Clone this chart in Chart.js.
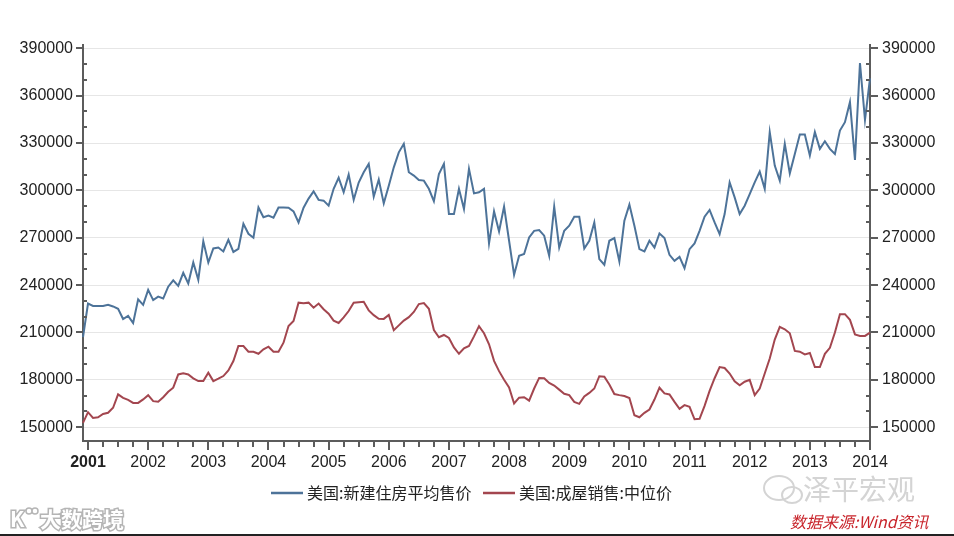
<!DOCTYPE html>
<html>
<head>
<meta charset="utf-8">
<script src="https://cdn.jsdelivr.net/npm/chart.js@4.4.0/dist/chart.umd.min.js"></script>
<style>
  html, body { margin: 0; padding: 0; background: #fff; }
  #wrap { position: relative; width: 954px; height: 536px; }
</style>
</head>
<body>
<div id="wrap"><canvas id="myChart" width="954" height="536"></canvas></div>
<script>
const seriesNames = ['美国:新建住房平均售价', '美国:成屋销售:中位价']
const colors = ['#4d7399', '#a3464f']

// monthly, 2000-12 .. 2014-01
const newHomeAvg = [
  207000, 228300, 226800, 226800, 226800, 227500, 226500, 225000, 218500, 220500,
  216000, 231000, 227500, 237000, 230500, 232700, 231500, 239000, 243000, 239500,
  247800, 241000, 254300, 243300, 267700, 254300, 263200, 263800, 261300, 268700,
  261000, 263000, 278900, 272500, 270000, 289200, 283000, 284000, 282700, 289200,
  289200, 289000, 286700, 279700, 289000, 294800, 299400, 294000, 293500, 290300,
  301000, 308000, 298800, 310000, 294000, 305000, 311500, 316800, 296000, 306800,
  291800, 303000, 314600, 324100, 329500, 311500, 309400, 306600, 306200, 301000,
  293100, 310400, 316800, 285000, 285000, 301000, 288200, 313600, 298100, 298800,
  301000, 266400, 286700, 274000, 289700, 268100, 246500, 258600, 259700, 270200,
  274400, 274900, 271300, 258600, 289700, 263800, 274400, 277600, 283300, 283300,
  263200, 268100, 279700, 256500, 252900, 268100, 269800, 255000, 280800, 291000,
  277600, 262800, 261300, 268100, 263800, 272700, 269800, 259200, 255400, 257900,
  250700, 262800, 266400, 274400, 283300, 287600, 279700, 272300, 285000, 305100,
  295600, 285000, 290300, 297700, 305100, 311900, 301000, 336900, 315700, 306200,
  329500, 310800, 323100, 335400, 335400, 322100, 336900, 326300, 331100, 326300,
  323100, 337900, 343200, 355900, 319300, 380700, 344700, 371000
]

const existingMedian = [
  152700, 159500, 155900, 156300, 158400, 159100, 162300, 170800, 168600, 167300,
  165400, 165400, 167600, 170300, 166500, 166100, 169000, 172400, 175000, 183400,
  184100, 183400, 180900, 179200, 179200, 184500, 179200, 180700, 182400, 186000,
  191900, 201400, 201400, 197800, 197800, 196500, 199300, 201000, 197800, 197800,
  203500, 214100, 217300, 228900, 228500, 228900, 225700, 228300, 224700, 221900,
  217500, 216000, 219500, 223600, 228900, 229200, 229400, 224000, 221000, 218700,
  218600, 221100, 211400, 214500, 217500, 219700, 223000, 228000, 228600, 225000,
  211500, 207000, 208400, 206500, 200500, 196500, 200000, 201500, 207500, 214000,
  209500, 202500, 192000, 185500, 180000, 175200, 165000, 168700, 169000, 166800,
  174500, 181200, 181000, 178000, 176400, 173800, 171200, 170300, 166000, 164800,
  169500, 171700, 174500, 182300, 182000, 177000, 171000, 170300, 169700, 168500,
  157600, 156300, 159100, 161200, 167500, 175000, 171400, 170700, 166000, 161600,
  164000, 162900, 155000, 155300, 163500, 173000, 181000, 188100, 187500, 184000,
  179000, 176500, 178800, 180000, 170300, 174500, 184000, 193500, 205500, 213500,
  212000, 209500, 198300, 197800, 196100, 197000, 188100, 188100, 196500, 200300,
  210000, 221600, 221600, 218000, 208800, 207800, 207800, 209900
]

const yTicks = [
  150000, 160000, 170000, 180000, 190000, 200000, 210000, 220000, 230000,
  240000, 250000, 260000, 270000, 280000, 290000, 300000, 310000, 320000,
  330000, 340000, 350000, 360000, 370000, 380000, 390000
]

const monthLabels = []
for (let k = 0; k < newHomeAvg.length; k++) {
  const m = (11 + k) % 12 + 1
  const y = 2000 + Math.floor((11 + k) / 12)
  monthLabels.push(y + '-' + String(m).padStart(2, '0'))
}

const axisColor = '#5c5c5c'
const labelFont = 'Liberation Sans'
const cjkFont = '"Noto Sans CJK SC", sans-serif'

const axisTicks = {
  id: 'axisTicks',
  afterDraw(chart) {
    const { ctx, chartArea, scales } = chart
    const { left, right, bottom } = chartArea
    ctx.save()
    ctx.strokeStyle = axisColor
    ctx.lineWidth = 2
    ctx.beginPath()
    yTicks.forEach((v) => {
      const py = Math.round(scales.y.getPixelForValue(v))
      if (v % 30000 === 0) {
        ctx.moveTo(left - 7, py); ctx.lineTo(left, py)
        ctx.moveTo(right, py); ctx.lineTo(right + 8, py)
      } else {
        ctx.moveTo(left, py); ctx.lineTo(left + 4, py)
        ctx.moveTo(right - 4, py); ctx.lineTo(right, py)
      }
    })
    monthLabels.forEach((lab, i) => {
      const m = parseInt(lab.slice(5), 10)
      if (m % 3 !== 1) return
      const px = Math.round(scales.x.getPixelForValue(i))
      ctx.moveTo(px, bottom)
      ctx.lineTo(px, bottom + (m === 1 ? 9 : 6))
    })
    ctx.stroke()

    // legend
    const ly = 493
    const items = [
      { x: 271, name: seriesNames[0], color: colors[0] },
      { x: 483, name: seriesNames[1], color: colors[1] },
    ]
    ctx.font = '16px ' + cjkFont
    ctx.textBaseline = 'middle'
    items.forEach((it) => {
      ctx.strokeStyle = it.color
      ctx.lineWidth = 2.5
      ctx.beginPath()
      ctx.moveTo(it.x, ly); ctx.lineTo(it.x + 32, ly)
      ctx.stroke()
      ctx.fillStyle = '#222'
      ctx.fillText(it.name, it.x + 36, ly)
    })

    // watermarks
    ctx.fillStyle = '#d4d4d4'
    ctx.font = '28px ' + cjkFont
    ctx.fillText('泽平宏观', 803, 489)
    ctx.strokeStyle = '#d4d4d4'
    ctx.lineWidth = 2
    ctx.beginPath()
    ctx.ellipse(779, 488, 15, 12, 0, 0, Math.PI * 2)
    ctx.stroke()
    ctx.beginPath()
    ctx.ellipse(792, 495, 10, 8, 0, 0, Math.PI * 2)
    ctx.stroke()

    ctx.fillStyle = '#c8242b'
    ctx.font = 'italic 16px ' + cjkFont
    ctx.fillText('数据来源:Wind资讯', 790, 522)

    ctx.font = 'bold 21px ' + cjkFont
    ctx.lineWidth = 3
    ctx.strokeStyle = '#b5b5b5'
    ctx.strokeText('大数跨境', 40, 519)
    ctx.fillStyle = '#ffffff'
    ctx.fillText('大数跨境', 40, 519)
    ctx.strokeText('K', 10, 519)
    ctx.fillText('K', 10, 519)
    ctx.lineWidth = 1.5
    ctx.beginPath()
    ctx.arc(29, 511, 3, 0, Math.PI * 2)
    ctx.moveTo(38, 511)
    ctx.arc(35, 511, 3, 0, Math.PI * 2)
    ctx.stroke()

    ctx.fillStyle = '#222'
    ctx.fillRect(0, 534, 954, 2)
    ctx.restore()
  },
}

const ctx = document.getElementById('myChart').getContext('2d')

new Chart(ctx, {
  type: 'line',
  data: {
    labels: monthLabels,
    datasets: [
      {
        label: seriesNames[0],
        data: newHomeAvg,
        borderColor: colors[0],
        backgroundColor: colors[0],
        borderWidth: 2,
        pointRadius: 0,
        tension: 0,
        yAxisID: 'y',
      },
      {
        label: seriesNames[1],
        data: existingMedian,
        borderColor: colors[1],
        backgroundColor: colors[1],
        borderWidth: 2,
        pointRadius: 0,
        tension: 0,
        yAxisID: 'y',
      },
    ],
  },
  options: {
    responsive: false,
    animation: false,
    devicePixelRatio: 1,
    layout: { padding: { top: 45, left: 0, right: 0, bottom: 0 } },
    plugins: {
      legend: { display: false },
      tooltip: { enabled: false },
    },
    scales: {
      x: {
        type: 'category',
        offset: false,
        grid: { display: false, drawTicks: false },
        border: { display: true, color: axisColor, width: 2 },
        ticks: {
          autoSkip: false,
          maxRotation: 0,
          minRotation: 0,
          padding: 12,
          color: '#222',
          font: (c) => ({ family: labelFont, size: 16, weight: c.index === 1 ? 'bold' : 'normal' }),
          callback: (v, i) => (monthLabels[i].endsWith('-01') ? monthLabels[i].slice(0, 4) : ''),
        },
        afterFit: (s) => { s.height = 95 },
      },
      y: {
        position: 'left',
        min: 141250,
        max: 392100,
        afterBuildTicks: (s) => { s.ticks = yTicks.map((v) => ({ value: v })) },
        grid: {
          drawTicks: false,
          lineWidth: 1,
          color: (c) => (c.tick && c.tick.value % 30000 === 0 ? '#e6e6e6' : 'rgba(0,0,0,0)'),
        },
        border: { display: true, color: axisColor, width: 2 },
        ticks: {
          autoSkip: false,
          padding: 10,
          color: '#222',
          font: { family: labelFont, size: 16 },
          callback: (v) => (v % 30000 === 0 ? String(v) : ''),
        },
        afterFit: (s) => { s.width = 83 },
      },
      y2: {
        position: 'right',
        min: 141250,
        max: 392100,
        afterBuildTicks: (s) => { s.ticks = yTicks.map((v) => ({ value: v })) },
        grid: { display: false, drawTicks: false },
        border: { display: true, color: axisColor, width: 2 },
        ticks: {
          autoSkip: false,
          padding: 12,
          color: '#222',
          font: { family: labelFont, size: 16 },
          callback: (v) => (v % 30000 === 0 ? String(v) : ''),
        },
        afterFit: (s) => { s.width = 84 },
      },
    },
  },
  plugins: [axisTicks],
})
</script>
</body>
</html>
